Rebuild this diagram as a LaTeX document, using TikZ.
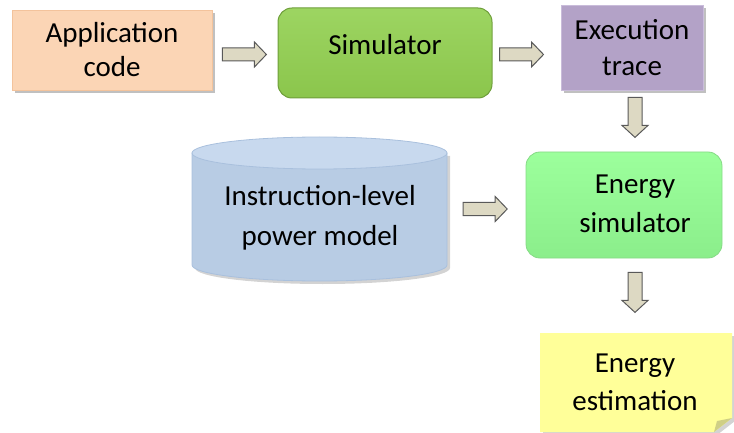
\documentclass[tikz,border=0pt]{standalone}
\usepackage{fontspec}
\setmainfont{Carlito}
\usetikzlibrary{shadows,calc}

\definecolor{peach}{HTML}{FBD5B5}
\definecolor{peachedge}{HTML}{F3C39C}
\definecolor{simgreen}{HTML}{92D050}
\definecolor{simedge}{HTML}{6E9E3A}
\definecolor{lilac}{HTML}{B3A2C7}
\definecolor{lilacedge}{HTML}{C9BCDA}
\definecolor{cylbody}{HTML}{B8CCE4}
\definecolor{cyltop}{HTML}{C8D9EE}
\definecolor{cyledge}{HTML}{A9C0DD}
\definecolor{mint}{HTML}{9CFF9C}
\definecolor{mintdark}{HTML}{8BEE8B}
\definecolor{mintedge}{HTML}{86DA86}
\definecolor{note}{HTML}{FFFF99}
\definecolor{notefold}{HTML}{CFCF86}
\definecolor{arrowfill}{HTML}{DDD9C3}
\definecolor{arrowedge}{HTML}{595959}

\tikzset{
  txt/.style={font=\fontsize{29}{36}\selectfont, align=center, inner sep=0pt},
  shade box/.style={drop shadow={shadow xshift=3pt, shadow yshift=-3pt,
      fill=black!55, opacity=0.45}},
  blk/.style={fill=arrowfill, draw=arrowedge, line width=1pt, line join=miter},
  pics/rblock/.style={code={
    \draw[blk] (0,-6.5) -- (32,-6.5) -- (32,-12.5) -- (44,0) -- (32,12.5)
      -- (32,6.5) -- (0,6.5) -- cycle;}},
  pics/dblock/.style={code={
    \draw[blk] (-7,0) -- (-7,28) -- (-13,28) -- (0,40) -- (13,28)
      -- (7,28) -- (7,0) -- cycle;}},
}

\begin{document}
\begin{tikzpicture}[x=1pt, y=-1pt]
  \useasboundingbox (0,0) rectangle (734,433);

  % application code
  \node[txt, font=\fontsize{29}{34}\selectfont, shade box, fill=peach,
        draw=peachedge, line width=0.8pt,
        minimum width=200pt, minimum height=80pt] (app) at (112,50)
        {Application\\code};

  % simulator
  \node[rounded corners=14pt, top color=simgreen!90!white, bottom color=simgreen!95!black,
        draw=simedge, line width=1pt,
        minimum width=214pt, minimum height=90pt] (sim) at (385,53) {};
  \node[txt] (simtxt) at (385,45) {Simulator};

  % execution trace
  \node[txt, shade box, fill=lilac, draw=lilacedge, line width=0.8pt,
        minimum width=142pt, minimum height=85pt] (trace) at (632,47.5)
        {Execution\\trace};

  % power model cylinder (y grows downward, so the lower rim runs 180 -> 0)
  \fill[black!50, opacity=0.35]
    (195,156) -- (195,268) arc[start angle=180, end angle=0, x radius=127.5, y radius=16]
    -- (450,156) -- cycle;
  \draw[fill=cylbody, draw=cyledge, line width=0.8pt]
    (192,153) -- (192,265) arc[start angle=180, end angle=0, x radius=127.5, y radius=16]
    -- (447,153) -- cycle;
  \draw[fill=cyltop, draw=cyledge, line width=0.8pt]
    (319.5,153) ellipse[x radius=127.5, y radius=16];
  \node[minimum width=255pt, minimum height=144pt] (model) at (319.5,209) {};
  \node[txt, font=\fontsize{29}{40}\selectfont] (modeltxt) at (320,218)
    {Instruction-level\\power model};

  % energy simulator
  \node[txt, font=\fontsize{29}{39}\selectfont, rounded corners=14pt,
        top color=mint, bottom color=mintdark, draw=mintedge, line width=0.8pt,
        minimum width=196pt, minimum height=106pt] (esim) at (624,205) {};
  \node[txt, font=\fontsize{29}{39}\selectfont] (esimtxt) at (635,204)
    {Energy\\simulator};

  % energy estimation note with folded corner
  \fill[black!50, opacity=0.35]
    (543,336) -- (735,336) -- (735,421) -- (717,435) -- (543,435) -- cycle;
  \fill[note] (540,333) -- (732,333) -- (732,418) -- (714,432) -- (540,432) -- cycle;
  \fill[notefold] (732,418) -- (714,432) -- (717,421) -- cycle;
  \node[minimum width=192pt, minimum height=99pt] (est) at (636,382.5) {};
  \node[txt, font=\fontsize{29}{38}\selectfont] (esttxt) at (635,382)
    {Energy\\estimation};

  % block arrows between the stages
  \pic at ($(app.east)+(10,4.5)$) {rblock};
  \pic at ($(sim.east)+(7,1.5)$) {rblock};
  \pic at ($(model.east)+(16,0)$) {rblock};
  \pic at ($(trace.south)+(3,7)$) {dblock};
  \pic at ($(esim.south)+(11,14)$) {dblock};
\end{tikzpicture}
\end{document}
